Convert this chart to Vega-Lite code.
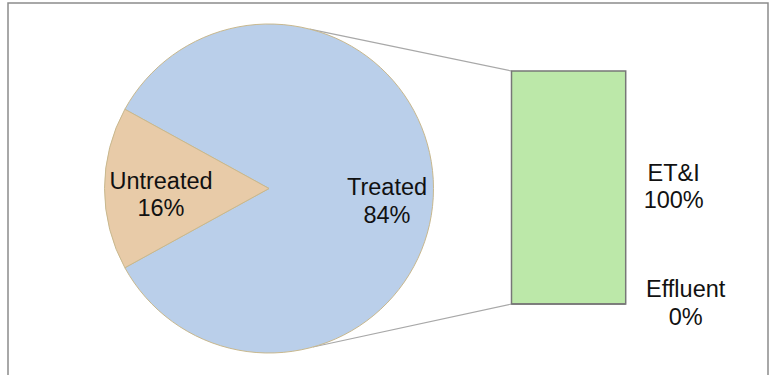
{
  "$schema": "https://vega.github.io/schema/vega-lite/v6.json",
  "width": 760,
  "height": 380,
  "autosize": {"type": "none"},
  "padding": {"left": 8, "top": 3, "right": 2, "bottom": 0},
  "background": "white",
  "config": {
    "view": {"stroke": "#8c8c8c", "strokeWidth": 1.5},
    "font": "Liberation Sans",
    "text": {"font": "Liberation Sans", "fontSize": 23.5, "lineHeight": 27.5, "color": "#111111"}
  },
  "params": [
    {"name": "cx", "value": 261},
    {"name": "cy", "value": 185.5},
    {"name": "r", "value": 164.5}
  ],
  "datasets": {
    "sources": [
      {"name": "Treated", "share": 0.84},
      {"name": "Untreated", "share": 0.16}
    ],
    "treated": [
      {"group": "Treated", "part": "ET&I", "share": 1.0},
      {"group": "Treated", "part": "Effluent", "share": 0.0}
    ]
  },
  "layer": [
    {
      "data": {"name": "treated"},
      "transform": [
        {"aggregate": [{"op": "sum", "field": "share", "as": "total"}], "groupby": ["group"]}
      ],
      "mark": {"type": "rule", "stroke": "#a8a8a8", "strokeWidth": 1.2},
      "encoding": {
        "x": {"field": "group", "type": "nominal", "bandPosition": 0,
              "scale": {"domain": ["Treated"], "range": [503.5, 617.7], "paddingInner": 0, "paddingOuter": 0},
              "axis": null},
        "y": {"field": "total", "type": "quantitative",
              "scale": {"domain": [0, 1], "range": [301, 68]}, "axis": null},
        "x2": {"value": {"expr": "cx + r * sin(14.3 * PI / 180)"}},
        "y2": {"value": {"expr": "cy - r * cos(14.3 * PI / 180)"}}
      }
    },
    {
      "data": {"name": "treated"},
      "transform": [
        {"aggregate": [{"op": "sum", "field": "share", "as": "total"}], "groupby": ["group"]}
      ],
      "mark": {"type": "rule", "stroke": "#a8a8a8", "strokeWidth": 1.2},
      "encoding": {
        "x": {"field": "group", "type": "nominal", "bandPosition": 0, "axis": null},
        "y": {"datum": 0, "type": "quantitative", "axis": null},
        "x2": {"value": {"expr": "cx + r * sin(164.5 * PI / 180)"}},
        "y2": {"value": {"expr": "cy - r * cos(164.5 * PI / 180)"}}
      }
    },
    {
      "data": {"name": "sources"},
      "mark": {
        "type": "arc",
        "x": {"expr": "cx"},
        "y": {"expr": "cy"},
        "radius": {"expr": "r"},
        "stroke": "#c8b88e",
        "strokeWidth": 1
      },
      "encoding": {
        "theta": {"field": "share", "type": "quantitative", "stack": true,
                  "scale": {"domain": [0, 1], "range": [5.2150, 11.4982]}},
        "color": {"field": "name", "type": "nominal",
                  "scale": {"domain": ["Treated", "Untreated"], "range": ["#bacfea", "#e8cba8"]},
                  "legend": null},
        "order": {"field": "name", "sort": "ascending"}
      }
    },
    {
      "data": {"name": "sources"},
      "transform": [
        {"calculate": "datum.name + '\\n' + format(datum.share, '.0%')", "as": "label"}
      ],
      "mark": {
        "type": "text",
        "x": {"expr": "cx"},
        "y": {"expr": "cy"},
        "radius": {"expr": "datum.name === 'Treated' ? 118 : 108"},
        "lineBreak": "\n",
        "align": "center",
        "baseline": "middle",
        "dy": {"expr": "datum.name === 'Treated' ? 0 : -7"}
      },
      "encoding": {
        "theta": {"field": "share", "type": "quantitative", "stack": true},
        "order": {"field": "name", "sort": "ascending"},
        "text": {"field": "label", "type": "nominal"}
      }
    },
    {
      "data": {"name": "treated"},
      "mark": {"type": "bar", "fill": "#bce8a9", "stroke": "#777777", "strokeWidth": 1.5},
      "encoding": {
        "x": {"field": "group", "type": "nominal", "axis": null},
        "y": {"field": "share", "type": "quantitative", "stack": "zero", "axis": null},
        "detail": {"field": "part", "type": "nominal"},
        "order": {"field": "part", "sort": "descending"}
      }
    },
    {
      "data": {"name": "treated"},
      "transform": [
        {"stack": "share", "groupby": ["group"], "sort": [{"field": "part", "order": "descending"}], "as": ["lo", "hi"]},
        {"calculate": "(datum.lo + datum.hi) / 2", "as": "mid"},
        {"calculate": "datum.part + '\\n' + format(datum.share, '.0%')", "as": "label"},
        {"filter": "datum.part === 'ET&I'"}
      ],
      "mark": {"type": "text", "lineBreak": "\n", "align": "center", "baseline": "middle", "dx": 48, "dy": -14},
      "encoding": {
        "x": {"field": "group", "type": "nominal", "bandPosition": 1, "axis": null},
        "y": {"field": "mid", "type": "quantitative", "axis": null},
        "text": {"field": "label", "type": "nominal"}
      }
    },
    {
      "data": {"name": "treated"},
      "transform": [
        {"stack": "share", "groupby": ["group"], "sort": [{"field": "part", "order": "descending"}], "as": ["lo", "hi"]},
        {"calculate": "(datum.lo + datum.hi) / 2", "as": "mid"},
        {"calculate": "datum.part + '\\n' + format(datum.share, '.0%')", "as": "label"},
        {"filter": "datum.part === 'Effluent'"}
      ],
      "mark": {"type": "text", "lineBreak": "\n", "align": "center", "baseline": "middle", "dx": 60, "dy": -14},
      "encoding": {
        "x": {"field": "group", "type": "nominal", "bandPosition": 1, "axis": null},
        "y": {"field": "mid", "type": "quantitative", "axis": null},
        "text": {"field": "label", "type": "nominal"}
      }
    }
  ]
}
